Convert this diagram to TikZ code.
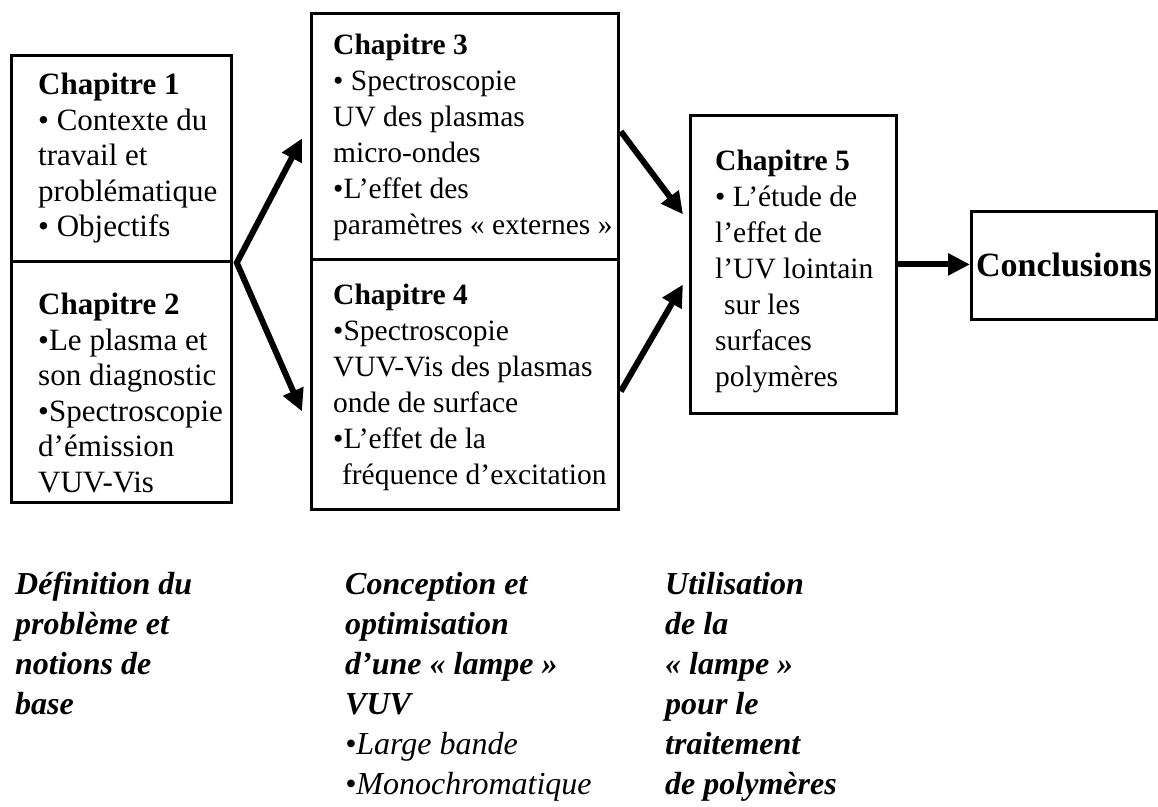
\documentclass[tikz,border=0pt]{standalone}
\usepackage{fontspec}
\setmainfont{Liberation Serif}
\usetikzlibrary{arrows.meta}

\begin{document}
\begin{tikzpicture}[
    x=1pt, y=-1pt,
    box/.style={draw=black, line width=2.8pt, inner sep=0pt, anchor=north west},
    txt/.style={anchor=north west, inner sep=0pt, align=left, font=\fontsize{29.5}{36}\selectfont},
    wide/.style={txt, font=\fontsize{31}{35.5}\selectfont},
    role/.style={anchor=north west, inner sep=0pt, align=left, font=\fontsize{32}{40}\selectfont\bfseries\itshape},
    flow/.style={line width=6pt, -{Triangle[length=22pt, width=21pt]}},
    branch/.style={line width=6pt, {Triangle[length=22pt, width=21pt]}-{Triangle[length=22pt, width=21pt]}}
]
\useasboundingbox (0,0) rectangle (1158,806);

\node[box, minimum width=220pt, minimum height=206pt] (box1) at (10,54) {};
\node[box, minimum width=220pt, minimum height=241pt] (box2) at (10,260) {};
\node[box, minimum width=307pt, minimum height=246pt] (box3) at (310,12) {};
\node[box, minimum width=307pt, minimum height=250pt] (box4) at (310,258) {};
\node[box, minimum width=206pt, minimum height=298pt] (box5) at (689,114) {};
\node[box, minimum width=185pt, minimum height=108pt, font=\fontsize{34}{40}\selectfont\bfseries] (concl) at (970,210) {Conclusions};

\node[wide] (ch1) at (38,73) {\textbf{Chapitre 1}\\• Contexte du\\travail et\\problématique\\• Objectifs};
\node[wide] (ch2) at (38,293) {\textbf{Chapitre 2}\\•Le plasma et\\son diagnostic\\•Spectroscopie\\d'émission\\VUV-Vis};
\node[txt] (ch3) at (333,34) {\textbf{Chapitre 3}\\• Spectroscopie\\UV des plasmas\\micro-ondes\\•L'effet des\\paramètres « externes »};
\node[txt] (ch4) at (333,284) {\textbf{Chapitre 4}\\•Spectroscopie\\VUV-Vis des plasmas\\onde de surface\\•L'effet de la\\\hspace*{.3em}fréquence d'excitation};
\node[txt] (ch5) at (715,150) {\textbf{Chapitre 5}\\• L'étude de\\l'effet de\\l’UV lointain\\\hspace*{.3em}sur les\\surfaces\\polymères};

\node[role] (def) at (15,572) {Définition du\\problème et\\notions de\\base};
\node[role] (conc) at (345,572) {Conception et\\optimisation\\d’une « lampe »\\VUV\\{\mdseries •Large bande}\\{\mdseries •Monochromatique}};
\node[role] (util) at (665,572) {Utilisation\\de la\\« lampe »\\pour le\\traitement\\de polymères};

\coordinate (fork) at ([xshift=4pt]box1.south east);
\draw[branch] ([shift={(-8,2)}]box3.west) -- (fork) -- ([shift={(-8,27)}]box4.west);
\draw[flow] ([shift={(1,-5)}]box3.east) -- ([shift={(-6,-50)}]box5.west);
\draw[flow] ([shift={(1,7)}]box4.east) -- ([shift={(-6,20)}]box5.west);
\draw[flow] (box5.east) -- (box5.east -| concl.west);

\end{tikzpicture}
\end{document}
